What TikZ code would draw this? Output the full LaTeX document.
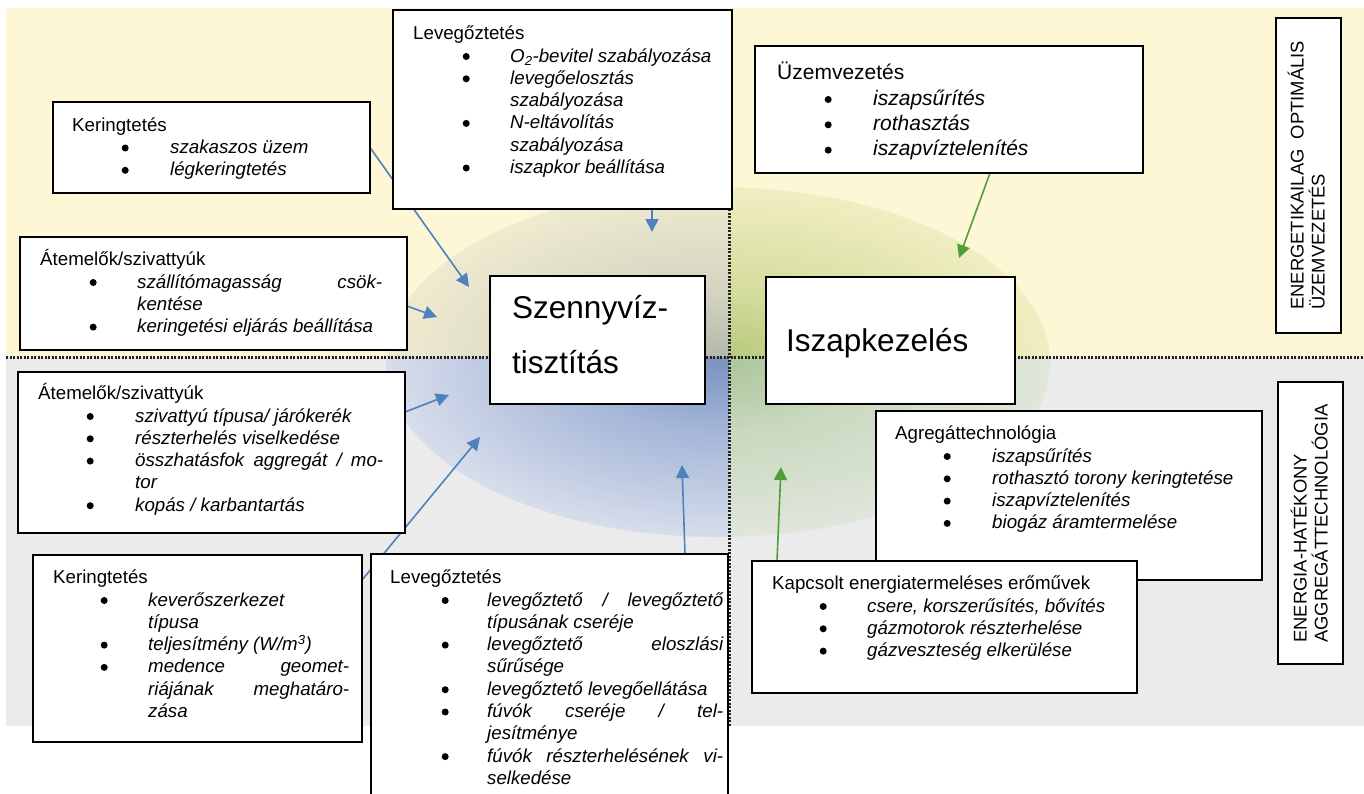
\documentclass[tikz,border=0pt]{standalone}
\usepackage{fontspec}
\setmainfont{Liberation Sans}
\usetikzlibrary{arrows.meta}
\definecolor{bgyel}{RGB}{254,247,214}
\definecolor{bggray}{RGB}{235,235,235}
\definecolor{ulin}{RGB}{176,183,168}
\definecolor{ulmid}{RGB}{212,212,193}
\definecolor{ulout}{RGB}{239,235,208}
\definecolor{urin}{RGB}{180,198,122}
\definecolor{urmid}{RGB}{212,220,155}
\definecolor{urout}{RGB}{240,238,194}
\definecolor{llin}{RGB}{124,147,194}
\definecolor{llmid}{RGB}{165,182,216}
\definecolor{llout}{RGB}{215,221,235}
\definecolor{lrin}{RGB}{170,197,154}
\definecolor{lrmid}{RGB}{201,216,190}
\definecolor{lrout}{RGB}{224,230,220}
\definecolor{arrblue}{RGB}{79,129,189}
\definecolor{arrgreen}{RGB}{80,158,58}
\definecolor{dotc}{RGB}{35,35,35}
\pgfdeclareradialshading{shUL}{\pgfpointorigin}{color(0bp)=(ulin); color(10bp)=(ulmid); color(25bp)=(ulout); color(50bp)=(ulout)}
\pgfdeclareradialshading{shUR}{\pgfpointorigin}{color(0bp)=(urin); color(10bp)=(urmid); color(25bp)=(urout); color(50bp)=(urout)}
\pgfdeclareradialshading{shLL}{\pgfpointorigin}{color(0bp)=(llin); color(10bp)=(llmid); color(25bp)=(llout); color(50bp)=(llout)}
\pgfdeclareradialshading{shLR}{\pgfpointorigin}{color(0bp)=(lrin); color(10bp)=(lrmid); color(25bp)=(lrout); color(50bp)=(lrout)}
\newcommand\tstrut{\rule{0pt}{18pt}}
\newcommand\myDot{\tikz[baseline=0pt]\fill[black] (0pt,5.5pt) circle[radius=3.5pt];}
\newcommand\myBul[3]{\hspace*{#1pt}\makebox[0pt]{\myDot}\hspace*{\dimexpr #2pt-#1pt\relax}{\itshape #3}}
\newcommand\myCont[2]{\hspace*{#1pt}{\itshape #2}}
\newcommand\myJust[2]{\makebox[#1pt][s]{\itshape #2}}
\pgfdeclarelayer{background}
\pgfdeclarelayer{arrowlayer}
\pgfsetlayers{background,arrowlayer,main}
\begin{document}
\begin{tikzpicture}[x=1pt,y=-1pt,
  box/.style={draw=black, line width=1.8pt, fill=white, anchor=north west, inner sep=0pt, outer sep=0pt},
  txt/.style={anchor=north west, inner sep=0pt, align=left, font=\fontsize{18.7}{22.3}\selectfont},
  vtxt/.style={anchor=base west, inner sep=0pt, rotate=90, font=\fontsize{18.4}{21}\selectfont},
  big/.style={inner sep=0pt, font=\fontsize{31.5}{55}\selectfont},
  barrow/.style={draw=arrblue, line width=1.6pt, -{Triangle[length=13pt,width=13pt]}, arrblue},
  garrow/.style={draw=arrgreen, line width=1.6pt, -{Triangle[length=13pt,width=13pt]}, arrgreen},
  dotline/.style={draw=dotc, line width=3pt, dash pattern=on 2pt off 1.5pt}]
\useasboundingbox (0,0) rectangle (1364,793);
% boxes
\node[box, minimum width=317pt, minimum height=91pt] (kerTop) at (53,102) {};
\node[box, minimum width=339pt, minimum height=199pt] (levTop) at (393,10) {};
\node[box, minimum width=388pt, minimum height=127pt] (uzem) at (755,46) {};
\node[box, minimum width=65pt, minimum height=315pt] (vtop) at (1276,18) {};
\node[box, minimum width=387pt, minimum height=113pt] (atTop) at (20,237) {};
\node[box, minimum width=215pt, minimum height=128pt] (szenny) at (490,276) {};
\node[box, minimum width=249pt, minimum height=127pt] (iszap) at (766,277) {};
\node[box, minimum width=387pt, minimum height=161pt] (atBot) at (18,372) {};
\node[box, minimum width=65pt, minimum height=282pt] (vbot) at (1278,382) {};
\node[box, minimum width=386pt, minimum height=169pt] (agr) at (876,411) {};
\node[box, minimum width=385pt, minimum height=132pt] (kap) at (752,561) {};
\node[box, minimum width=329pt, minimum height=187pt] (kerBot) at (33,555) {};
\node[box, minimum width=357pt, minimum height=245pt] (levBot) at (371,554) {};
% texts
\node[txt] (kerTopT) at (72,113) {\tstrut Keringtetés\\
\myBul{53}{98}{szakaszos üzem}\\
\myBul{53}{98}{légkeringtetés}};
\node[txt] (levTopT) at (413,21.5) {\tstrut Levegőztetés\\
\myBul{53}{97}{O\textsubscript{2}-bevitel szabályozása}\\
\myBul{53}{97}{levegőelosztás}\\
\myCont{97}{szabályozása}\\
\myBul{53}{97}{N-eltávolítás}\\
\myCont{97}{szabályozása}\\
\myBul{53}{97}{iszapkor beállítása}};
\node[txt, font=\fontsize{21}{25.3}\selectfont] (uzemT) at (777,59.5) {\rule{0pt}{20pt}Üzemvezetés\\
\myBul{51}{96}{iszapsűrítés}\\
\myBul{51}{96}{rothasztás}\\
\myBul{51}{96}{iszapvíztelenítés}};
\node[txt] (atTopT) at (40,247.5) {\tstrut Átemelők/szivattyúk\\
\myBul{53}{97}{\myJust{245}{szállítómagasság csök-}}\\
\myCont{97}{kentése}\\
\myBul{53}{97}{keringetési eljárás beállítása}};
\node[txt] (atBotT) at (38,381.5) {\tstrut Átemelők/szivattyúk\\
\myBul{52}{97}{szivattyú típusa/ járókerék}\\
\myBul{52}{97}{részterhelés viselkedése}\\
\myBul{52}{97}{\myJust{248}{összhatásfok aggregát / mo-}}\\
\myCont{97}{tor}\\
\myBul{52}{97}{kopás / karbantartás}};
\node[txt] (kerBotT) at (53,565.5) {\tstrut Keringtetés\\
\myBul{51}{95}{keverőszerkezet}\\
\myCont{95}{típusa}\\
\myBul{51}{95}{teljesítmény (W/m\textsuperscript{3})}\\
\myBul{51}{95}{\myJust{201}{medence geomet-}}\\
\myCont{95}{\myJust{201}{riájának meghatáro-}}\\
\myCont{95}{zása}};
\node[txt] (levBotT) at (390,565.5) {\tstrut Levegőztetés\\
\myBul{55}{97}{\myJust{236}{levegőztető / levegőztető}}\\
\myCont{97}{típusának cseréje}\\
\myBul{55}{97}{\myJust{236}{levegőztető eloszlási}}\\
\myCont{97}{sűrűsége}\\
\myBul{55}{97}{levegőztető levegőellátása}\\
\myBul{55}{97}{\myJust{236}{fúvók cseréje / tel-}}\\
\myCont{97}{jesítménye}\\
\myBul{55}{97}{\myJust{236}{fúvók részterhelésének vi-}}\\
\myCont{97}{selkedése}};
\node[txt] (agrT) at (895,421.5) {\tstrut Agregáttechnológia\\
\myBul{52}{97}{iszapsűrítés}\\
\myBul{52}{97}{rothasztó torony keringtetése}\\
\myBul{52}{97}{iszapvíztelenítés}\\
\myBul{52}{97}{biogáz áramtermelése}};
\node[txt] (kapT) at (772,571.5) {\tstrut Kapcsolt energiatermeléses erőművek\\
\myBul{51}{95}{csere, korszerűsítés, bővítés}\\
\myBul{51}{95}{gázmotorok részterhelése}\\
\myBul{51}{95}{gázveszteség elkerülése}};
\node[big, anchor=north west, align=left] (szennyT) at (512,288) {\rule{0pt}{30pt}Szennyvíz-\\tisztítás};
\node[big, anchor=base west] (iszapT) at (786,351) {Iszapkezelés};
\node[vtxt] (vtopA) at (1303.6,310) {ENERGETIKAILAG\hspace{0.55em}OPTIMÁLIS};
\node[vtxt] (vtopB) at (1324.6,310) {ÜZEMVEZETÉS};
\node[vtxt] (vbotA) at (1306.6,643) {ENERGIA-HATÉKONY};
\node[vtxt] (vbotB) at (1327.6,643) {AGGREGÁTTECHNOLÓGIA};
% background
\begin{pgfonlayer}{background}
\fill[bgyel] (6,8) rectangle (1364,357);
\fill[bggray] (6,357) rectangle (1364,726);
\begin{scope}
\clip (6,8) rectangle (729,357);
\shade[shading=shUL] (718,362) ellipse [x radius=332pt, y radius=175pt];
\end{scope}
\begin{scope}
\clip (729,8) rectangle (1364,357);
\shade[shading=shUR] (718,362) ellipse [x radius=332pt, y radius=175pt];
\end{scope}
\begin{scope}
\clip (6,357) rectangle (729,726);
\shade[shading=shLL] (718,362) ellipse [x radius=332pt, y radius=175pt];
\end{scope}
\begin{scope}
\clip (729,357) rectangle (1364,726);
\shade[shading=shLR] (718,362) ellipse [x radius=332pt, y radius=175pt];
\end{scope}
\draw[dotline] (6,357) -- (1364,357);
\draw[dotline] (729,209) -- (729,726);
\end{pgfonlayer}
% arrows
\begin{pgfonlayer}{arrowlayer}
\coordinate (t1) at (469,287);
\coordinate (t2) at (437,317);
\coordinate (t3) at (652,232);
\coordinate (t4) at (449,395);
\coordinate (t5) at (480,437);
\coordinate (t6) at (682,465);
\coordinate (t7) at (959,258);
\coordinate (t8) at (781,467);
\draw[barrow] (kerTop.east) -- (t1);
\draw[barrow] ([yshift=-12.5pt]atTop.east) -- (t2);
\draw[barrow] ([xshift=89.5pt]levTop.south) -- (t3);
\draw[barrow] ([yshift=40.5pt]atBot.east) -- (t4);
\draw[barrow] ([yshift=68.5pt]kerBot.east) -- (t5);
\draw[barrow] ([xshift=135.5pt]levBot.north) -- (t6);
\draw[garrow] ([xshift=41pt]uzem.south) -- (t7);
\draw[garrow] ([xshift=-167.5pt]kap.north) -- (t8);
\end{pgfonlayer}
\end{tikzpicture}
\end{document}
